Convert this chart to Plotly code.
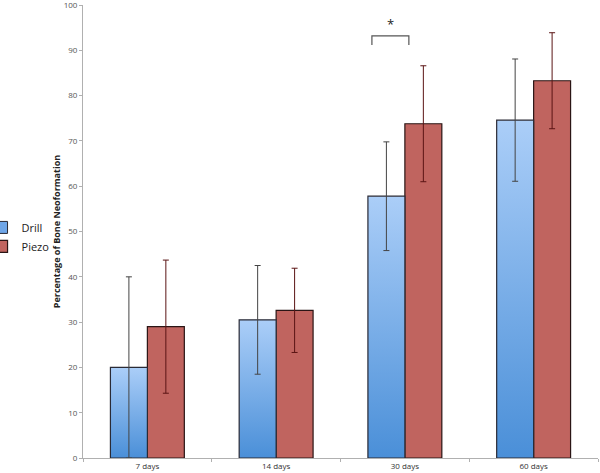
import plotly.graph_objects as go

categories = ["7 days", "14 days", "30 days", "60 days"]
drill = [20.0, 30.5, 57.8, 74.6]
drill_err = [20.0, 12.0, 12.0, 13.5]
piezo = [29.0, 32.6, 73.8, 83.3]
piezo_err = [14.7, 9.3, 12.8, 10.6]
y_ticks = list(range(0, 101, 10))
y_title = "Percentage of Bone Neoformation"

W = 0.287  # bar width in category units
idx = list(range(len(categories)))

fig = go.Figure()

# Legend entry for Drill (square swatch)
fig.add_trace(go.Bar(x=[None], y=[None], name="Drill",
                     marker=dict(color="#6fa6e8", line=dict(color="#2a2a35", width=1)),
                     legendgroup="drill"))

# Drill bars as gradient-filled polygons
for i, v in enumerate(drill):
    x0, x1 = i - W, i
    fig.add_trace(go.Scatter(
        x=[x0, x0, x1, x1, x0], y=[0, v, v, 0, 0],
        mode="lines", fill="toself",
        fillgradient=dict(type="vertical",
                          colorscale=[[0, "#4a8fd8"], [1, "#abcef8"]]),
        line=dict(color="#2a2a35", width=1.2),
        name="Drill", legendgroup="drill", showlegend=False,
        hoverinfo="skip"))

# Piezo bars
fig.add_trace(go.Bar(
    x=[i + W / 2 for i in idx], y=piezo, width=W, name="Piezo",
    marker=dict(color="#c0645f", line=dict(color="#2a1515", width=1.2)),
    error_y=dict(type="data", array=piezo_err, color="#5a1414",
                 thickness=1, width=3)))

# Drill error bars (on top)
fig.add_trace(go.Scatter(
    x=[i - W / 2 for i in idx], y=drill, mode="markers",
    marker=dict(size=1, color="rgba(0,0,0,0)"), showlegend=False,
    legendgroup="drill",
    error_y=dict(type="data", array=drill_err, color="#444444",
                 thickness=1, width=3)))

# Significance bracket
fig.add_shape(type="path", path="M 1.744 91.2 L 1.744 93.2 L 2.031 93.2 L 2.031 91.2",
              line=dict(color="#555555", width=1.2))
fig.add_annotation(x=1.89, y=95.8, text="*", showarrow=False,
                   font=dict(size=13, color="#222222"))

fig.update_layout(
    width=600, height=473,
    margin=dict(l=83, r=2, t=5, b=15, autoexpand=False),
    plot_bgcolor="white", paper_bgcolor="white",
    font=dict(family="Open Sans, Liberation Sans, sans-serif", color="#444444"),
    showlegend=True,
    legend=dict(x=-0.197, y=0.541, xanchor="left", yanchor="top",
                font=dict(size=11, color="#222222"), traceorder="normal",
                itemwidth=30, bgcolor="rgba(0,0,0,0)"),
    xaxis=dict(range=[-0.5, 3.5], tickvals=idx, ticktext=categories,
               automargin=False,
               showgrid=False, zeroline=False, showline=True,
               linecolor="#b0b0b0", linewidth=1, ticks="",
               tickfont=dict(size=8, color="#333333"),
               minor=dict(tickvals=[-0.5, 0.5, 1.5, 2.5, 3.5], ticks="outside",
                          ticklen=3, tickcolor="#b0b0b0")),
    yaxis=dict(range=[0, 100.02], tickmode="array", tickvals=y_ticks,
               showgrid=False, zeroline=False,
               automargin=False, ticklabeloverflow="allow",
               showline=True, linecolor="#b0b0b0", linewidth=1,
               ticks="outside", ticklen=3, tickcolor="#b0b0b0",
               tickfont=dict(size=8, color="#555555"),
               title=dict(text="<b>" + y_title + "</b>", standoff=1,
                          font=dict(size=9, color="#222222"))),
)

fig.write_html("out.html", config={"displayModeBar": False},
               post_script="document.body.style.margin='0';document.body.style.overflow='hidden';")
